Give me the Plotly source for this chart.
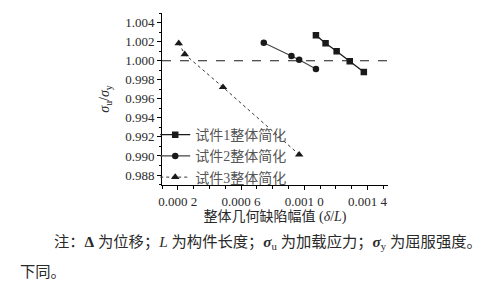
import plotly.graph_objects as go

# Data
s1_x = [0.001074, 0.001135, 0.001205, 0.001288, 0.001377]
s1_y = [1.00268, 1.00184, 1.00100, 0.99995, 0.99882]
s2_x = [0.000744, 0.000919, 0.000968, 0.001074]
s2_y = [1.00190, 1.00050, 1.00010, 0.99914]
s3_x = [0.000206, 0.000244, 0.000486, 0.000968]
s3_y = [1.00184, 1.00068, 0.99722, 0.99014]
names = ["试件1整体简化", "试件2整体简化", "试件3整体简化"]
x_ticks = [0.0002, 0.0006, 0.0010, 0.0014]
x_ticktext = ["0.000 2", "0.000 6", "0.001 0", "0.001 4"]
y_ticks = [0.988, 0.990, 0.992, 0.994, 0.996, 0.998, 1.000, 1.002, 1.004]
ref_y = 1.0

SERIF = "Liberation Serif, Noto Sans CJK SC, serif"
TXT = "#2a2a2a"

fig = go.Figure()
fig.add_trace(go.Scatter(x=s1_x, y=s1_y, name=names[0], mode="lines+markers",
                         line=dict(color="#1a1a1a", width=1.3),
                         marker=dict(symbol="square", size=6.5, color="#1a1a1a")))
fig.add_trace(go.Scatter(x=s2_x, y=s2_y, name=names[1], mode="lines+markers",
                         line=dict(color="#444444", width=1.1),
                         marker=dict(symbol="circle", size=6.5, color="#1a1a1a")))
fig.add_trace(go.Scatter(x=s3_x, y=s3_y, name=names[2], mode="lines+markers",
                         line=dict(color="#333333", width=1, dash="dot"),
                         marker=dict(symbol="triangle-up", size=7.5, color="#1a1a1a")))

fig.add_hline(y=ref_y, line=dict(color="#1a1a1a", width=1.1, dash="dash"))

fig.update_layout(
    width=483, height=278,
    margin=dict(l=154, r=103, t=5, b=101),
    paper_bgcolor="white", plot_bgcolor="white",
    font=dict(family=SERIF, size=13, color=TXT),
    showlegend=True,
    legend=dict(x=-0.03, y=0.383, xanchor="left", yanchor="top",
                bgcolor="rgba(0,0,0,0)", font=dict(size=14, color="#555555"),
                tracegroupgap=0, itemwidth=30),
    xaxis=dict(range=[0.0001, 0.00153], showgrid=False, zeroline=False,
               showline=True, linecolor="black", linewidth=1,
               ticks="outside", ticklen=4, tickcolor="black",
               tickvals=x_ticks, ticktext=x_ticktext,
               minor=dict(dtick=0.0001, tick0=0, ticks="outside", ticklen=2.5, tickcolor="black"),
               tickfont=dict(size=13, color=TXT),
               title=dict(text="整体几何缺陷幅值 (<i>δ</i>/<i>L</i>)", standoff=3,
                          font=dict(size=14, color=TXT))),
    yaxis=dict(range=[0.98695, 1.00502], showgrid=False, zeroline=False,
               showline=True, linecolor="black", linewidth=1,
               ticks="outside", ticklen=4, tickcolor="black",
               tickvals=y_ticks, tickformat=".3f",
               minor=dict(dtick=0.001, tick0=0, ticks="outside", ticklen=2.5, tickcolor="black"),
               tickfont=dict(size=13, color=TXT),
               title=dict(text="<i>σ</i><sub>u</sub>/<i>σ</i><sub>y</sub>", standoff=12,
                          font=dict(size=14, color=TXT))),
)

fig.add_annotation(xref="paper", yref="paper", x=-0.487, y=-0.337,
                   xanchor="left", yanchor="middle", showarrow=False,
                   text="注：<b>Δ</b> 为位移；<i>L</i> 为构件长度；<b><i>σ</i></b><sub>u</sub> 为加载应力；<b><i>σ</i></b><sub>y</sub> 为屈服强度。",
                   font=dict(family=SERIF, size=15.3, color=TXT))
fig.add_annotation(xref="paper", yref="paper", x=-0.637, y=-0.505,
                   xanchor="left", yanchor="middle", showarrow=False,
                   text="下同。", font=dict(family=SERIF, size=15.3, color=TXT))

fig.write_html("out.html")
